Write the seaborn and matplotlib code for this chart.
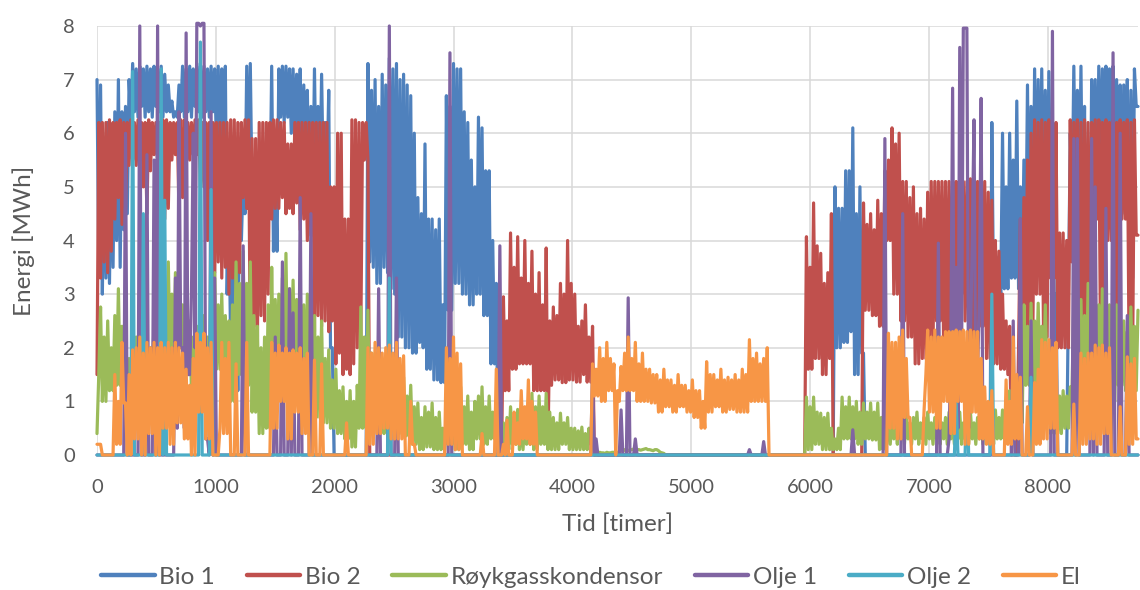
import numpy as np
import pandas as pd
import seaborn as sns
import matplotlib.pyplot as plt
from matplotlib.lines import Line2D

# Hourly operation over one year, sampled every 15 hours.
STEP = 15
HOURS_IN_YEAR = 8760

series_names = ["Bio 1", "Bio 2", "Røykgasskondensor", "Olje 1", "Olje 2", "El"]
series_colors = ["#4F81BD", "#C0504D", "#9BBB59", "#8064A2", "#4BACC6", "#F79646"]

x_ticks = [0, 1000, 2000, 3000, 4000, 5000, 6000, 7000, 8000]
y_ticks = [0, 1, 2, 3, 4, 5, 6, 7, 8]

# Each series is stored as runs: (start hour, values every STEP hours); zero elsewhere.
bio1_runs = [
    (0, [7.0, 3.4, 6.9, 3.0, 5.8, 3.3, 6.2, 3.2, 5.9, 3.5,
         6.4, 4.0, 7.0, 3.5, 6.4, 4.2, 6.5, 4.5, 7.0, 6.2,
         7.3, 6.4, 7.2, 6.3, 7.25, 6.5, 7.2, 6.3, 7.25, 6.4,
         7.2, 6.3, 7.25, 6.5, 7.2, 6.4, 7.25, 6.3, 7.1, 6.4,
         6.9, 6.4, 6.6, 6.3, 6.4, 6.3, 6.9, 6.4, 7.25, 6.3,
         7.2, 6.4, 7.25, 6.3, 7.2, 6.5, 7.3, 6.4, 7.25, 6.3,
         7.25, 6.4, 7.2, 6.3, 7.25, 6.4, 7.2, 5.8, 7.25, 5.5,
         7.2, 5.0, 7.25, 3.0, 4.5, 2.0, 5.0, 1.2, 4.0, 1.2,
         5.5, 4.0, 5.2, 4.5, 7.25, 5.0, 7.3, 4.8, 5.5, 3.5,
         5.0, 3.5, 5.5, 4.0, 5.0, 4.0, 5.8, 4.5, 7.25, 3.8,
         5.3, 3.8, 7.2, 6.3, 7.25, 6.2, 7.25, 6.3, 7.2, 6.0,
         7.2, 5.9, 7.1, 6.0, 7.2, 5.0, 6.9, 5.0, 6.8, 4.5,
         6.5, 4.5, 7.2, 4.8, 6.5, 4.8, 7.1, 5.0, 6.2, 5.0,
         6.8, 2.0, 2.0, 0.0]),
    (2280, [7.3, 3.6, 6.8, 3.5, 7.0, 3.2, 6.5, 3.2, 7.1, 3.5,
            6.9, 3.4, 7.4, 3.1, 7.2, 3.0, 7.3, 2.2, 7.0, 2.2,
            7.1, 2.0, 6.9, 2.0, 6.7, 1.9, 6.0, 1.9, 4.8, 2.1,
            4.5, 2.0, 5.8, 1.6, 4.4, 1.6, 4.4, 1.4, 4.2, 1.4,
            4.4, 1.35, 2.8, 1.35, 6.7, 2.7, 6.5, 2.7, 7.3, 3.2,
            7.2, 3.2, 7.2, 3.0, 6.4, 3.0, 6.2, 2.8, 5.5, 2.8,
            5.0, 3.0, 6.3, 3.0, 6.1, 2.6, 5.3, 2.6, 5.3, 1.7,
            4.0, 1.7, 3.2, 0.0]),
    (6210, [5.0, 2.0, 4.6, 2.0, 4.6, 2.1, 5.3, 2.1, 5.3, 2.3,
            6.1, 1.5, 4.5, 1.5, 5.0, 1.9, 1.9, 0.0]),
    (7530, [6.2, 2.8, 3.7, 2.8, 3.7, 3.0, 6.0, 3.1, 5.0, 3.1,
            6.0, 3.3, 5.5, 3.3, 6.6, 3.1, 5.0, 3.1, 5.5, 3.5,
            6.9, 3.5, 6.5, 3.5, 7.2, 4.0, 7.0, 4.0, 7.2, 4.2,
            6.8, 4.2, 7.15, 4.5, 6.0, 3.0, 3.0, 0.0, 0.0, 0.0,
            0.0, 0.0, 0.0, 3.0, 6.0, 4.5, 7.25, 4.5, 6.8, 4.5,
            7.25, 4.0, 6.5, 3.0, 5.0, 3.0, 7.0, 4.5, 7.0, 4.5,
            7.25, 5.0, 7.2, 5.0, 7.25, 5.5, 7.2, 5.5, 7.25, 5.0,
            7.0, 5.0, 6.9, 4.5, 6.9, 4.5, 7.0, 3.3, 6.8, 3.3,
            7.2, 6.5, 6.5]),
]

bio2_runs = [
    (0, [1.5, 6.2, 3.3, 6.2, 3.6, 6.2, 3.4, 6.25, 3.8, 6.2,
         4.4, 6.2, 4.8, 6.25, 4.3, 6.2, 4.6, 6.2, 5.4, 6.25,
         5.5, 6.2, 5.4, 6.25, 5.5, 6.2, 5.0, 6.2, 4.5, 6.25,
         5.3, 6.2, 5.6, 6.2, 5.5, 6.2, 5.5, 6.25, 4.4, 6.25,
         4.6, 6.2, 5.5, 6.2, 5.6, 6.2, 4.5, 6.25, 4.8, 6.25,
         5.4, 6.2, 5.5, 6.2, 5.6, 6.25, 5.6, 6.25, 5.0, 6.2,
         5.0, 6.2, 4.0, 6.2, 4.2, 6.2, 3.4, 6.2, 3.6, 6.2,
         3.3, 6.2, 3.5, 6.2, 3.0, 6.25, 3.3, 6.25, 3.2, 6.2,
         3.4, 6.2, 4.8, 6.25, 4.6, 6.25, 2.0, 5.9, 2.4, 5.9,
         2.2, 6.2, 2.6, 6.2, 2.5, 6.2, 3.0, 6.2, 4.4, 6.25,
         4.6, 6.25, 4.6, 6.2, 4.8, 6.2, 4.5, 5.8, 4.6, 5.8,
         4.5, 6.2, 4.7, 6.2, 4.2, 6.2, 4.4, 6.2, 4.0, 6.2,
         4.1, 6.2, 2.3, 6.2, 2.6, 6.2, 2.4, 6.2, 2.5, 6.2,
         2.3, 5.0, 2.5, 5.0, 1.7, 6.0, 1.9, 6.0, 1.5, 4.4,
         1.6, 4.4, 1.5, 6.25, 1.7, 6.25, 2.0, 6.2, 2.2, 6.2,
         5.5, 6.2, 5.5, 0.0]),
    (3420, [2.95, 1.2, 2.5, 1.2, 4.14, 1.6, 3.5, 1.6, 4.07, 1.7,
            3.3, 1.7, 4.0, 1.7, 3.2, 1.7, 3.8, 1.2, 3.0, 1.2,
            3.4, 1.2, 2.8, 1.2, 3.86, 0.15, 2.5, 1.3, 2.76, 1.4,
            2.6, 1.4, 3.2, 1.35, 3.0, 1.35, 4.0, 1.4, 3.2, 1.4,
            3.0, 1.36, 2.4, 1.36, 2.5, 1.5, 2.8, 1.36, 2.2, 1.36,
            2.4, 0.0]),
    (5970, [4.07, 1.6, 3.5, 1.6, 4.7, 1.8, 3.9, 1.8, 3.76, 1.5,
            3.2, 1.5, 3.4, 1.8, 4.5, 0.0]),
    (6450, [4.7, 2.7, 4.3, 2.7, 4.5, 2.6, 4.2, 2.6, 4.75, 2.4,
            4.5, 2.4, 5.3, 4.0, 5.5, 4.0, 6.1, 3.0, 5.8, 3.0,
            6.0, 2.5, 5.1, 2.5, 5.1, 2.2, 4.8, 2.2, 5.0, 1.7,
            4.5, 1.7, 4.6, 1.8, 4.4, 1.8, 4.9, 2.0, 5.1, 2.0,
            5.1, 2.5, 5.1, 2.5, 5.1, 1.9, 5.1, 1.9, 5.1, 2.2,
            5.1, 2.2, 5.1, 3.0, 5.1, 3.0, 5.1, 2.5, 5.1, 2.5,
            5.15, 2.0, 5.1, 2.0, 5.1, 2.4, 5.1, 2.4, 5.1, 1.8,
            4.9, 1.8, 4.75, 1.7, 4.0, 1.7, 3.8, 1.6, 3.0, 1.6,
            2.5, 1.5, 2.4, 0.0, 0.0, 0.0, 0.0, 2.0, 4.4, 2.2,
            4.8, 2.2, 5.5, 2.2, 6.0, 2.2, 6.25, 3.0, 6.2, 3.0,
            6.25, 2.2, 6.2, 2.2, 6.25, 3.3, 6.2, 3.3, 6.2, 2.0,
            4.14, 2.0, 4.14, 2.0, 4.0, 2.0, 6.25, 3.6, 6.2, 3.6,
            6.25, 2.0, 6.2, 2.0, 6.25, 1.9, 6.2, 1.9, 6.2, 4.4,
            6.25, 4.4, 6.25, 2.0, 6.2, 2.0, 6.25, 4.0, 6.2, 4.0,
            6.25, 2.5, 6.2, 2.5, 6.25, 4.4, 6.2, 4.4, 6.25, 1.9,
            6.2, 1.9, 6.25, 4.1, 4.1]),
]

roykgass_runs = [
    (0, [0.4, 1.5, 2.76, 1.0, 2.2, 1.0, 2.5, 1.2, 2.0, 1.2,
         2.6, 1.3, 3.1, 1.3, 2.4, 1.3, 2.2, 1.0, 1.8, 1.0,
         2.0, 1.5, 2.2, 1.5, 2.4, 1.2, 2.0, 1.2, 2.2, 1.4,
         2.0, 1.4, 2.5, 1.3, 2.1, 1.3, 2.3, 1.5, 2.6, 1.5,
         3.6, 1.8, 3.0, 1.8, 3.4, 2.0, 3.0, 2.0, 2.8, 1.5,
         2.6, 1.5, 2.5, 1.2, 2.2, 1.2, 2.4, 1.4, 2.3, 1.4,
         2.6, 1.5, 2.2, 1.5, 2.2, 1.6, 3.4, 1.6, 2.8, 1.6,
         3.0, 1.4, 2.6, 1.4, 2.5, 1.0, 2.8, 1.0, 3.6, 1.5,
         3.2, 1.5, 3.8, 1.3, 3.2, 1.3, 3.6, 0.8, 2.6, 0.8,
         2.4, 0.4, 2.0, 0.4, 2.2, 0.5, 2.8, 0.5, 3.5, 1.4,
         2.9, 1.4, 3.0, 1.2, 3.3, 1.2, 3.76, 1.5, 3.1, 1.5,
         3.26, 1.4, 2.9, 1.4, 3.2, 0.9, 2.8, 0.9, 3.0, 1.0,
         2.5, 1.0, 2.6, 0.7, 2.2, 0.7, 2.5, 0.6, 1.8, 0.6,
         1.96, 0.5, 1.4, 0.5, 1.6, 0.4, 1.2, 0.4, 1.27, 0.3,
         1.0, 0.3, 1.2, 0.15, 1.0, 0.15, 1.3, 0.5, 2.76, 0.5,
         2.2, 0.5, 2.7, 0.4, 1.9, 0.4, 1.9, 0.6, 1.4, 0.6,
         1.5, 0.4, 1.2, 0.4, 1.3, 0.5, 1.5, 0.5, 1.8, 0.4,
         1.3, 0.4, 1.45, 0.35, 1.1, 0.35, 1.3, 0.2, 0.9, 0.2,
         0.97, 0.1, 0.7, 0.1, 0.9, 0.15, 0.8, 0.15, 0.97, 0.1,
         0.7, 0.1, 0.8, 0.1, 0.5, 0.1, 0.6, 0.2, 0.7, 0.2,
         0.8, 0.1, 0.9, 0.1, 1.27, 0.2, 0.9, 0.2, 1.1, 0.1,
         0.8, 0.1, 1.0, 0.3, 1.1, 0.3, 1.27, 0.2, 0.9, 0.2,
         1.1, 0.3, 0.8, 0.3, 0.65, 0.1, 0.5, 0.1, 0.6, 0.1,
         0.7, 0.1, 0.9, 0.2, 0.7, 0.2, 0.85, 0.1, 0.6, 0.1,
         0.7, 0.2, 0.9, 0.2, 1.15, 0.1, 0.9, 0.1, 1.1, 0.2,
         0.9, 0.2, 1.15, 0.1, 0.8, 0.1, 0.7, 0.1, 0.6, 0.1,
         0.78, 0.2, 0.6, 0.2, 0.7, 0.1, 0.5, 0.1, 0.5, 0.1,
         0.45, 0.1, 0.52, 0.1, 0.4, 0.1, 0.5, 0.2, 0.3, 0.05,
         0.05, 0.04, 0.05, 0.04, 0.04, 0.03, 0.05, 0.04, 0.04, 0.05,
         0.05, 0.04, 0.05, 0.06, 0.08, 0.07, 0.1, 0.08, 0.08, 0.1,
         0.1, 0.11, 0.12, 0.1, 0.1, 0.09, 0.1, 0.11, 0.12, 0.1,
         0.1, 0.09, 0.08, 0.1, 0.1, 0.08, 0.05, 0.04, 0.03, 0.0]),
    (5970, [1.08, 0.1, 0.9, 0.1, 1.08, 0.2, 0.8, 0.2, 0.78, 0.1,
            0.7, 0.1, 0.78, 0.1, 0.5, 0.1, 0.3, 0.1, 0.5, 0.1,
            1.08, 0.3, 0.9, 0.3, 1.08, 0.3, 0.9, 0.3, 1.0, 0.2,
            0.8, 0.2, 0.97, 0.3, 0.8, 0.3, 0.97, 0.28, 0.8, 0.28,
            0.97, 0.1, 0.7, 0.1, 0.9, 0.2, 0.8, 0.2, 0.7, 0.3,
            0.6, 0.2, 0.8, 0.3, 0.7, 0.2, 0.8, 0.3, 0.6, 0.2,
            0.7, 0.3, 0.8, 0.2, 0.6, 0.3, 0.7, 0.2, 0.8, 0.3,
            0.6, 0.2, 0.7, 0.3, 0.8, 0.2, 0.6, 0.3, 0.7, 0.2,
            0.8, 0.3, 0.6, 0.2, 0.7, 0.3, 0.8, 0.2, 0.6, 0.3,
            0.7, 0.2, 0.8, 0.3, 0.6, 0.2, 0.7, 0.3, 0.6, 0.2,
            0.7, 0.3, 0.6, 0.2, 0.7, 0.2, 0.84, 0.3, 0.7, 0.3,
            0.84, 0.3, 1.0, 0.3, 1.2, 0.5, 1.1, 0.5, 1.3, 0.6,
            1.6, 0.6, 2.8, 1.3, 2.4, 1.3, 2.83, 1.3, 2.5, 1.3,
            2.83, 1.4, 2.4, 1.4, 2.8, 1.27, 1.27, 0.4, 1.0, 0.4,
            1.27, 0.4, 1.1, 0.4, 1.2, 0.5, 1.1, 0.5, 1.27, 1.2,
            2.9, 1.2, 2.5, 1.2, 2.9, 1.0, 2.6, 1.0, 3.2, 1.0,
            2.7, 1.0, 3.2, 1.1, 2.8, 1.1, 3.1, 1.2, 2.6, 1.2,
            2.8, 1.0, 2.5, 1.0, 2.8, 1.3, 2.4, 1.3, 2.5, 1.2,
            2.3, 1.2, 2.76, 1.2, 2.4, 1.2, 2.7]),
]

olje1_runs = [
    (240, [6.0]), (360, [8.0]), (420, [5.6]), (480, [5.5]), (510, [8.0]),
    (660, [3.3, 0.5, 6.4, 2.0, 2.0, 0.5, 7.87, 1.5, 1.5, 3.0, 6.0, 2.0,
           8.05, 8.05, 8.0, 8.05, 8.05, 0.3, 0.3, 0.0, 6.4, 0.0, 3.3]),
    (1230, [3.9]), (1500, [2.2]), (1560, [3.6]), (1620, [3.1]), (1650, [2.65]),
    (1710, [4.8]), (1800, [4.5]), (2370, [3.1]), (2460, [8.0]), (2520, [3.3]),
    (2970, [7.5]), (3390, [3.9]), (4170, [1.65]), (4200, [0.3]), (4410, [0.84]),
    (4470, [2.93]), (4530, [0.3]), (5490, [0.1]), (5610, [0.25]), (6360, [0.47]),
    (6630, [5.9]), (6780, [4.5]), (7080, [3.95]),
    (7170, [0.3, 2.0, 6.84, 1.0, 3.5, 0.5, 7.6, 1.5, 7.96, 7.96, 7.96, 0.5,
            2.0, 4.0, 6.25, 1.0, 1.5, 3.0, 6.65]),
    (7710, [2.5]), (7770, [4.4]), (7860, [2.5]), (8040, [7.9]),
    (8220, [5.9]), (8250, [5.9]), (8370, [5.9]), (8400, [5.0]), (8490, [4.6]),
    (8550, [7.5]), (8610, [6.0]), (8670, [2.6]),
]

olje2_runs = [
    (300, [7.15]), (390, [4.5]), (540, [7.2]), (570, [4.75]), (870, [7.7]),
    (960, [4.95]), (2460, [3.3]), (7230, [1.0]), (7320, [1.43]), (7530, [3.0]),
    (7860, [1.45]),
]

el_runs = [
    (0, [0.2, 0.2, 0.2, 0.0]),
    (150, [1.5, 0.2, 1.0, 0.2, 2.1, 0.97, 0.97, 0.0, 1.5, 0.0,
           1.96, 0.3, 2.0, 0.3, 2.2, 0.0, 1.9, 0.0, 2.1, 0.4,
           2.0, 0.4, 2.1, 0.0, 2.0, 0.0, 2.1, 0.5, 2.0, 0.5,
           2.1, 0.2, 2.0, 0.2, 2.1, 0.6, 2.0, 0.6, 1.9, 0.3,
           1.6, 0.3, 1.3, 0.0, 1.8, 0.0, 2.27, 0.8, 2.1, 0.8,
           2.27, 0.3, 2.0, 0.3, 2.1, 0.0, 0.0, 0.0, 0.0, 0.5,
           2.1, 0.4, 1.8, 0.4, 2.1, 0.0, 0.0, 0.0, 1.7, 0.0,
           0.0, 0.0, 0.0, 0.0, 2.1, 0.0]),
    (1470, [2.1, 0.5, 1.9, 0.5, 2.05, 1.0, 1.9, 1.0, 2.0, 0.3,
            1.9, 0.3, 1.96, 0.8, 1.9, 0.8, 2.0, 0.4, 1.8, 0.4,
            1.9, 0.0, 0.0, 0.0, 1.77, 0.0, 0.0, 0.0, 1.7, 0.0]),
    (2100, [0.6]),
    (2280, [2.0, 0.2, 1.9, 0.2, 2.1, 0.4, 2.0, 0.4, 1.9, 0.5,
            2.0, 0.5, 2.05, 0.3, 1.9, 0.3, 2.1, 0.3, 1.8, 0.3,
            1.85, 0.0, 0.0, 0.0, 1.0, 0.2, 0.2, 0.0]),
    (2940, [2.0, 0.2, 1.8, 0.2, 2.2, 0.1, 1.9, 0.1, 1.7, 0.0]),
    (3240, [0.4]),
    (3360, [1.6]),
    (3420, [0.2, 0.0, 0.65, 0.0, 0.0, 0.0, 0.8, 0.2, 0.6, 0.2,
            1.2, 0.3, 0.9, 0.3, 1.4, 0.2, 1.0, 0.2, 0.8, 0.0]),
    (4170, [1.7, 1.1, 1.6, 1.1, 2.0, 1.0, 1.8, 1.0, 2.1, 1.2,
            1.8, 1.2, 1.7, 0.0, 1.2, 1.0, 1.65, 1.2, 1.9, 1.2,
            2.2, 1.2, 1.8, 1.2, 2.1, 1.0, 1.7, 1.0, 1.9, 1.0,
            1.6, 1.0, 1.6, 0.97, 1.5, 0.97, 1.5, 0.8, 1.4, 0.8,
            1.6, 0.9, 1.4, 0.9, 1.4, 0.8, 1.3, 0.8, 1.5, 0.9,
            1.3, 0.9, 1.3, 0.8, 1.2, 0.8, 1.4, 0.7, 1.2, 0.7,
            1.2, 0.5, 1.0, 0.5, 1.74, 0.8, 1.5, 0.8, 1.5, 0.9,
            1.4, 0.9, 1.6, 0.8, 1.4, 0.8, 1.45, 0.85, 1.4, 0.85,
            1.5, 0.8, 1.4, 0.8, 1.6, 0.8, 1.5, 0.8, 2.15, 1.0,
            1.8, 1.0, 1.9, 1.0, 1.7, 1.0, 1.8, 1.0, 2.0, 0.0]),
    (6660, [2.27, 0.5, 2.1, 0.5, 2.1, 0.3, 2.2, 0.3, 2.33, 0.7,
            1.8, 0.7, 0.7, 0.0, 0.0, 0.0, 0.0, 0.0, 0.0, 0.0,
            0.84, 1.5, 2.33, 0.8, 2.2, 0.8, 2.33, 0.5, 2.2, 0.5,
            2.2, 1.0, 2.3, 1.0, 2.3, 0.4, 2.3, 0.4, 2.33, 1.0,
            2.3, 1.0, 2.33, 0.2, 2.3, 0.2, 2.33, 0.8, 2.3, 0.8,
            2.3, 0.3, 1.8, 0.3, 1.27, 0.2, 1.0, 0.2, 1.2, 0.0,
            0.0, 0.0, 0.0, 0.0, 0.0, 0.0, 1.4, 0.2, 1.0, 0.2,
            2.2, 0.3, 1.5, 0.3, 1.45, 0.0, 0.0, 0.0, 0.9, 0.0,
            0.0, 0.0, 1.35, 0.2, 1.6, 0.2, 2.15, 0.3, 2.1, 0.3,
            2.15, 0.5, 2.0, 0.5, 2.1, 0.0, 0.0, 0.0, 0.0, 0.0,
            0.0, 0.0, 0.0, 0.0, 0.95, 0.0, 0.0, 0.0, 1.9, 0.2,
            1.8, 0.2, 1.9, 0.3, 1.9, 0.3, 2.05, 0.2, 2.0, 0.2,
            2.05, 0.4, 1.9, 0.4, 2.0, 0.0, 0.0, 0.0, 0.0, 0.0,
            0.9, 0.0, 0.0, 0.0, 1.83, 0.2, 1.7, 0.2, 1.8, 0.3,
            0.3]),
]

hours = np.arange(0, HOURS_IN_YEAR + 1, STEP)


def on_grid(runs):
    y = np.zeros(len(hours))
    for start, vals in runs:
        k = start // STEP
        y[k:k + len(vals)] = vals
    return y


all_runs = [bio1_runs, bio2_runs, roykgass_runs, olje1_runs, olje2_runs, el_runs]
frames = [pd.DataFrame({"Tid": hours, "Energi": on_grid(r), "Serie": name})
          for name, r in zip(series_names, all_runs)]
df = pd.concat(frames, ignore_index=True)

sns.set_theme(style="white")
plt.rcParams["font.family"] = ["Lato", "DejaVu Sans"]
TEXT = "#595959"

fig = plt.figure(figsize=(11.4, 5.9), dpi=100)
ax = fig.add_axes([97 / 1140, 135 / 590, 1041 / 1140, 429 / 590])

sns.lineplot(data=df, x="Tid", y="Energi", hue="Serie", hue_order=series_names,
             palette=series_colors, linewidth=2.3, estimator=None, sort=False,
             ax=ax, legend=True)
for ln in ax.lines:
    ln.set_clip_on(False)
    ln.set_solid_joinstyle("round")
    ln.set_solid_capstyle("round")

if ax.get_legend() is not None:
    ax.get_legend().remove()

ax.set_xlim(0, HOURS_IN_YEAR)
ax.set_ylim(0, 8)
ax.set_xticks(x_ticks)
ax.set_yticks(y_ticks)
ax.grid(True, color="#D9D9D9", linewidth=1.1)
ax.set_axisbelow(True)
for s in ax.spines.values():
    s.set_visible(False)
ax.tick_params(axis="both", length=0, labelsize=14.5, labelcolor=TEXT)
ax.tick_params(axis="y", pad=16)
ax.tick_params(axis="x", pad=17)

ax.set_xlabel("Tid [timer]", fontsize=17.5, color=TEXT)
ax.set_ylabel("Energi [MWh]", fontsize=17.5, color=TEXT)
ax.yaxis.set_label_coords(-0.06, 0.5)
ax.xaxis.set_label_coords(0.5, -0.135)

leg_handles = [Line2D([0], [0], color=c, linewidth=3.2) for c in series_colors]
fig.legend(leg_handles, series_names, loc="center", bbox_to_anchor=(591 / 1140, 1 - 577 / 590),
           ncol=6, frameon=False, fontsize=17.5, handlelength=2.2, handletextpad=0.2,
           columnspacing=1.3, labelcolor=TEXT)

fig.savefig("out.png", dpi=100)
